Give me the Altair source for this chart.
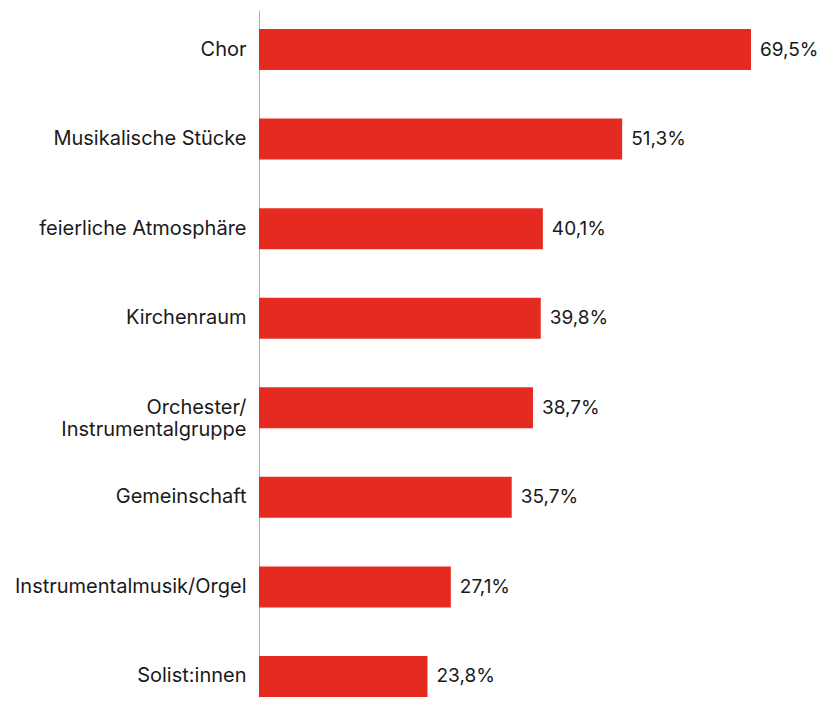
import altair as alt
import pandas as pd

categories = ["Chor", "Musikalische Stücke", "feierliche Atmosphäre", "Kirchenraum",
              "Orchester/Instrumentalgruppe", "Gemeinschaft", "Instrumentalmusik/Orgel",
              "Solist:innen"]
values = [69.5, 51.3, 40.1, 39.8, 38.7, 35.7, 27.1, 23.8]
labels = ["69,5%", "51,3%", "40,1%", "39,8%", "38,7%", "35,7%", "27,1%", "23,8%"]

df = pd.DataFrame({"cat": categories, "val": values, "lab": labels})

FONT = "Inter"
RED = "#e52b21"

y = alt.Y("cat:N", sort=categories, title=None,
          scale=alt.Scale(range=[0, 706], paddingInner=0.542, paddingOuter=0.212),
          axis=alt.Axis(ticks=False, grid=False, domainColor="#b0b0b0", domainWidth=1,
                        labelFont=FONT, labelFontSize=20, labelColor="#1a1a1a",
                        labelPadding=13, labelLimit=400, labelLineHeight=22,
                        labelExpr="datum.value == 'Orchester/Instrumentalgruppe' ? ['Orchester/', 'Instrumentalgruppe'] : datum.value"))
x = alt.X("val:Q", title=None, scale=alt.Scale(domain=[0, 78.4], nice=False), axis=None)

bars = alt.Chart(df).mark_bar(color=RED).encode(x=x, y=y)
text = alt.Chart(df).mark_text(align="left", baseline="middle", dx=9, font=FONT,
                               fontSize=19, color="#1a1a1a").encode(x=x, y=y, text="lab:N")

chart = (bars + text).properties(
    width=555, height=688,
    autosize=alt.AutoSizeParams(type="none"),
    padding={"left": 251, "top": 2, "right": 4, "bottom": 0},
).configure_view(stroke=None)

chart.save("out.html", embed_options={"renderer": "svg", "actions": False})
